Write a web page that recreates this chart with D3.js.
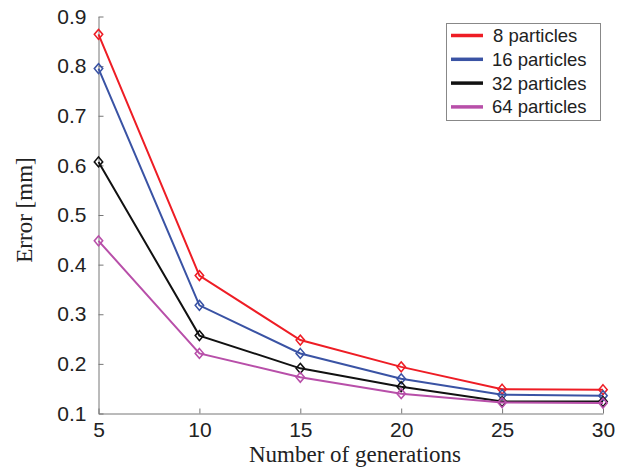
<!DOCTYPE html>
<html><head><meta charset="utf-8">
<script src="https://cdn.jsdelivr.net/npm/d3@7"></script>
<style>body{margin:0;background:#fff}</style>
</head><body>
<svg id="c" width="631" height="472"></svg>
<script>
const generations = [5, 10, 15, 20, 25, 30];
const seriesNames = ["8 particles", "16 particles", "32 particles", "64 particles"];
const err8  = [0.864, 0.378, 0.248, 0.194, 0.149, 0.148];
const err16 = [0.795, 0.318, 0.221, 0.170, 0.138, 0.136];
const err32 = [0.607, 0.257, 0.191, 0.154, 0.124, 0.124];
const err64 = [0.448, 0.221, 0.173, 0.140, 0.122, 0.121];
const xTicks = [5, 10, 15, 20, 25, 30];
const yTicks = [0.1, 0.2, 0.3, 0.4, 0.5, 0.6, 0.7, 0.8, 0.9];
const colors = ["#ee1d25", "#3a53a4", "#111111", "#b84fa9"];

const series = [err8, err16, err32, err64].map((v, i) => ({name: seriesNames[i], color: colors[i], values: v}));

const svg = d3.select("#c");
const x = d3.scaleLinear().domain([5, 30]).range([98.5, 603]);
const y = d3.scaleLinear().domain([0.1, 0.9]).range([413.5, 16.5]);

const axisColor = "#777";
const gx = svg.append("g").attr("transform", `translate(0,${y(0.1)})`)
  .call(d3.axisBottom(x).tickValues(xTicks).tickSizeInner(-5).tickSizeOuter(0).tickPadding(9).tickFormat(d3.format("d")));
gx.select(".domain").attr("stroke", axisColor);
gx.selectAll(".tick line").attr("stroke", axisColor);
gx.selectAll("text").attr("font-family", "Liberation Sans, Arial, sans-serif").attr("font-size", 21).attr("fill", "#222");

const gy = svg.append("g").attr("transform", `translate(${x(5)},0)`)
  .call(d3.axisLeft(y).tickValues(yTicks).tickSizeInner(-5).tickSizeOuter(0).tickPadding(12).tickFormat(d3.format(".1f")));
gy.select(".domain").attr("stroke", axisColor);
gy.selectAll(".tick line").attr("stroke", axisColor);
gy.selectAll("text").attr("font-family", "Liberation Sans, Arial, sans-serif").attr("font-size", 21).attr("fill", "#222");

svg.append("text").attr("x", 355).attr("y", 462).attr("text-anchor", "middle")
  .attr("font-family", "Liberation Serif, Times New Roman, serif").attr("font-size", 23).attr("fill", "#222")
  .text("Number of generations");
svg.append("text").attr("transform", "translate(32,210) rotate(-90)").attr("text-anchor", "middle")
  .attr("font-family", "Liberation Serif, Times New Roman, serif").attr("font-size", 23).attr("fill", "#222")
  .text("Error [mm]");

const line = d3.line().x((d, i) => x(generations[i])).y(d => y(d));
const diamond = d3.symbol().type(d3.symbolDiamond2).size(62);

series.forEach(s => {
  svg.append("path").attr("d", line(s.values)).attr("fill", "none").attr("stroke", s.color).attr("stroke-width", 2);
  svg.append("g").selectAll("path").data(s.values).join("path")
    .attr("transform", (d, i) => `translate(${x(generations[i])},${y(d)}) scale(0.85,1)`)
    .attr("d", diamond).attr("fill", "none").attr("stroke", s.color).attr("stroke-width", 1.7);
});

const lg = svg.append("g");
lg.append("rect").attr("x", 446.5).attr("y", 23.5).attr("width", 154).attr("height", 97)
  .attr("fill", "#fff").attr("stroke", "#888").attr("stroke-width", 1);
series.forEach((s, i) => {
  const yy = 35.5 + i * 23.8;
  lg.append("line").attr("x1", 451).attr("x2", 483).attr("y1", yy).attr("y2", yy)
    .attr("stroke", s.color).attr("stroke-width", 3.5);
  lg.append("text").attr("x", i === 0 ? 493 : 492).attr("y", yy + 6.5)
    .attr("font-family", "Liberation Sans, Arial, sans-serif").attr("font-size", 18.5).attr("fill", "#222")
    .text(s.name);
});
</script>
</body></html>
